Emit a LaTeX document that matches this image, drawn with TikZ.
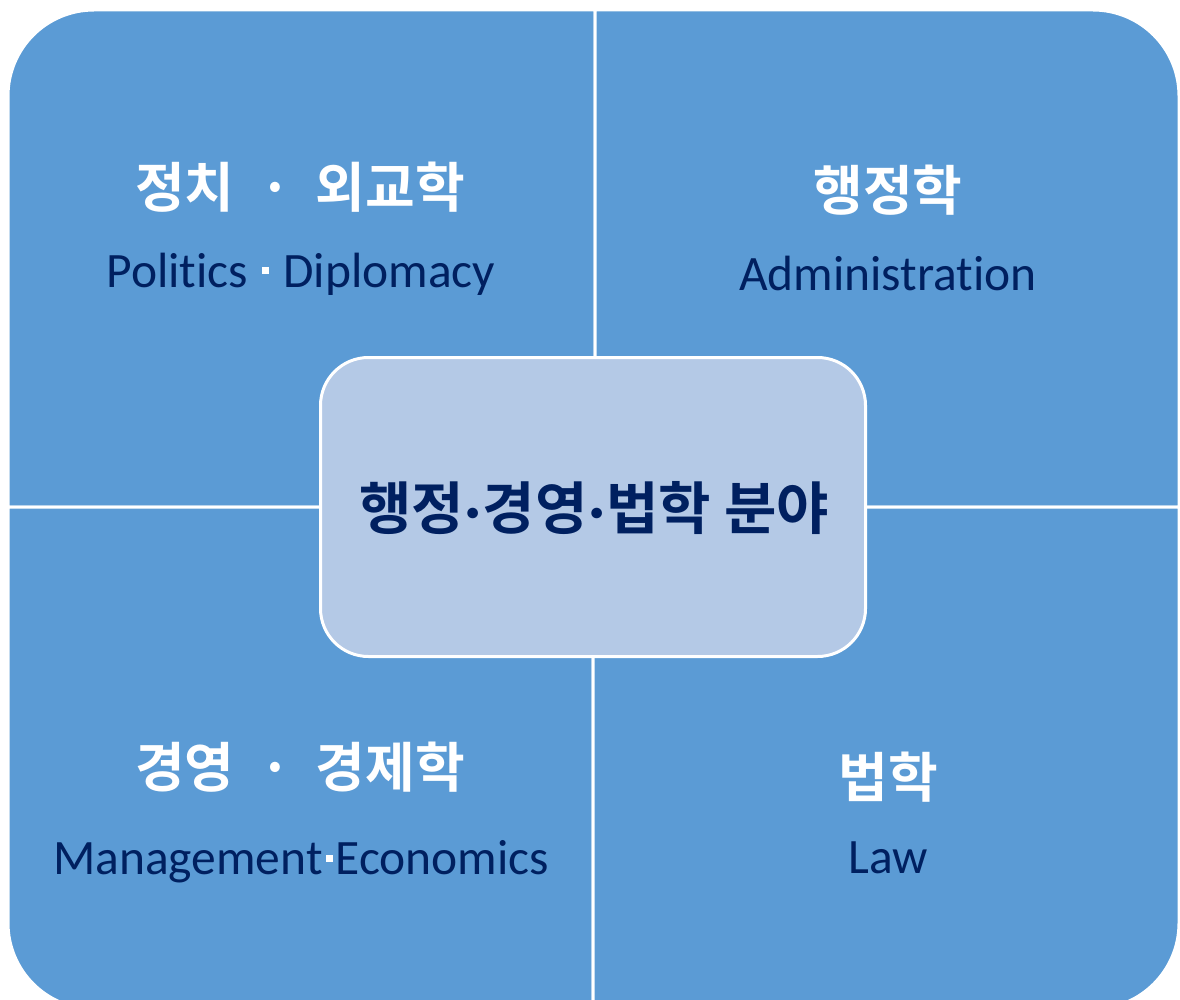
\documentclass[tikz,border=0pt]{standalone}
\usepackage{fontspec}
\setmainfont{Carlito}[Ligatures=NoCommon]
\newfontfamily\kofont{Noto Sans CJK KR}[BoldFont={Noto Sans CJK KR Bold}]
\usetikzlibrary{positioning}
\definecolor{quadblue}{RGB}{91, 155, 213}
\definecolor{hubblue}{RGB}{180, 201, 230}
\definecolor{navytext}{RGB}{0, 32, 96}
\newcommand{\sqdot}{\kern0.06em\textcolor{white}{\rule[0.26em]{0.14em}{0.14em}}\kern0.06em}
\newcommand{\latdot}{{\normalfont\bfseries\kern0.03em·\kern0.03em}}

\begin{document}
\begin{tikzpicture}[
    x=1pt, y=-1pt,
    quad/.style={fill=quadblue, draw=white, line width=3pt},
    hub/.style={rectangle, fill=hubblue, draw=white, line width=3pt,
                minimum width=545pt, minimum height=299pt, rounded corners=48pt},
    kotitle/.style={text=white, font=\kofont\bfseries\fontsize{54}{62}\selectfont},
    entitle/.style={text=navytext, font=\fontsize{49.5}{56}\selectfont}
]
\useasboundingbox (0,0) rectangle (1180,1000);

% Quadrants
\path[quad] (595,507) -- (595,10) [rounded corners=86pt] -- (8,10) [sharp corners] -- (8,507) -- cycle;
\path[quad] (595,507) -- (595,10) [rounded corners=86pt] -- (1179,10) [sharp corners] -- (1179,507) -- cycle;
\path[quad] (593,507) -- (8,507) [rounded corners=86pt] -- (8,1009) [sharp corners] -- (593,1009) -- cycle;
\path[quad] (593,507) -- (1179,507) [rounded corners=86pt] -- (1179,1009) [sharp corners] -- (593,1009) -- cycle;

% Centre
\node[hub] (field) at (593,507) {};
\node[text=navytext, font=\kofont\bfseries\fontsize{57}{64}\selectfont] (fieldtext) at (594,508)
    {행정\latdot 경영\latdot 법학 분야};

% Top left
\node[kotitle] (polko) at (300,187) {정치 \ · \ 외교학};
\node[entitle] (polen) at (301,274) {Politics \sqdot{} Diplomacy};

% Top right
\node[kotitle] (admko) at (888,190) {행정학};
\node[entitle] (admen) at (888,273) {Administration};

% Bottom left
\node[kotitle] (ecoko) at (300,767) {경영 \ · \ 경제학};
\node[entitle] (ecoen) at (301,862) {Management\sqdot Economics};

% Bottom right
\node[kotitle] (lawko) at (888,777) {법학};
\node[entitle] (lawen) at (888,858) {Law};

\end{tikzpicture}
\end{document}
